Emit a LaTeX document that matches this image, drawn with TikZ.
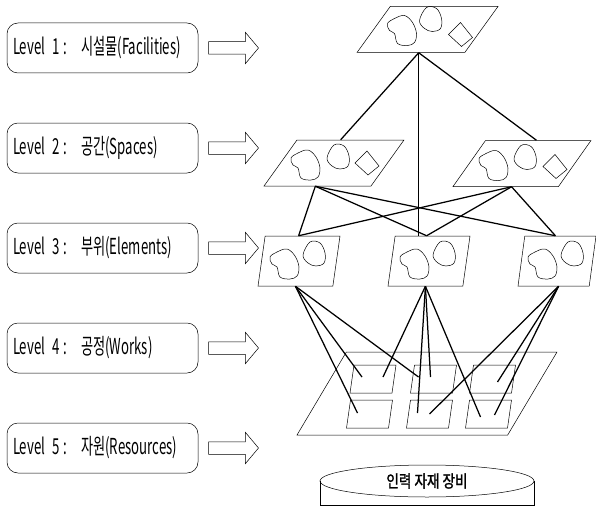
\documentclass[tikz,border=0pt]{standalone}
\usepackage{fontspec}
\setmainfont{Noto Sans CJK KR}[FakeStretch=0.6]
\newfontfamily\cylfont{Noto Sans CJK KR}[FakeStretch=0.8, FakeBold=1.5]
\usetikzlibrary{shapes.geometric, shapes.arrows, positioning, calc}

% little outlines drawn inside the sheets
\newcommand{\potato}[1]{\draw[outline, shift={(#1)}] plot[smooth cycle, tension=0.6]
  coordinates {(-16,-7) (-9,-12) (1,-15) (9,-8) (13,3) (11,12) (4,15) (-6,13) (-9,3) (-14,0)};}
\newcommand{\roundy}[1]{\draw[outline, shift={(#1)}] plot[smooth cycle, tension=0.6]
  coordinates {(-11,1) (-4,-12) (6,-11) (11,-1) (10,9) (2,12) (-6,9)};}
\newcommand{\kite}[1]{\draw[outline, shift={(#1)}] (0,-12) -- (12,3) -- (1,12) -- (-12,0) -- cycle;}

\tikzset{
  outline/.style={line width=0.5pt},
  levelbox/.style={draw, outline, rounded corners=11pt, minimum width=191pt, minimum height=50pt,
    text width=179pt, align=left, inner sep=6pt, font=\fontsize{22}{22}\selectfont},
  levelarrow/.style={draw, outline, single arrow, single arrow head extend=9.5pt,
    single arrow tip angle=100, minimum height=50pt, inner xsep=0pt, inner ysep=6pt},
  sheet/.style={draw, outline, trapezium, trapezium stretches=true, inner sep=2pt},
  bigsheet/.style={sheet, trapezium left angle=66, trapezium right angle=114, minimum height=46pt},
  partsheet/.style={sheet, trapezium left angle=84, trapezium right angle=96, minimum height=50pt},
  worksheet/.style={sheet, trapezium left angle=84, trapezium right angle=96, minimum width=46pt, minimum height=28pt},
  link/.style={line width=1.25pt},
}

\begin{document}
\begin{tikzpicture}[x=1pt, y=-1pt]
\useasboundingbox (0,0) rectangle (596,508);

% ---- level labels with their arrows
\foreach \n/\y/\txt in {1/48/시설물(Facilities), 2/148/공간(Spaces), 3/248/부위(Elements),
                        4/348/공정(Works), 5/448/자원(Resources)} {
  \node[levelbox] (lv\n) at (102.5,\y) {Level \n\,:\hspace{14pt}\txt};
  \node[levelarrow, right=10pt of lv\n] (ar\n) {};
}

% ---- level 1 and 2 sheets
\node[bigsheet, minimum width=141pt] (fac) at (427.5,29.5) {};
\node[bigsheet, minimum width=140pt] (spL) at (334,163) {};
\node[bigsheet, minimum width=138pt] (spR) at (522,163.5) {};
\potato{$(fac)+(-24,1)$} \roundy{$(fac)+(3,-10)$} \kite{$(fac)+(33,5)$}
\potato{$(spL)+(-27,2)$} \roundy{$(spL)+(4,-6)$} \kite{$(spL)+(33,0)$}
\potato{$(spR)+(-27,2)$} \roundy{$(spR)+(3,-6)$} \kite{$(spR)+(33,3)$}

% ---- level 3 sheets
\node[partsheet, minimum width=82pt] (elL) at (299,261) {};
\node[partsheet, minimum width=82pt] (elM) at (429,261) {};
\node[partsheet, minimum width=78pt] (elR) at (557,261) {};
\foreach \e in {elL, elM, elR} {
  \potato{$(\e)+(-13,3)$} \roundy{$(\e)+(15,-7)$}
}

% ---- level 4 plate with its works
\node[sheet, trapezium left angle=73, trapezium right angle=107,
      minimum width=260pt, minimum height=83pt] (plate) at (427,393.5) {};
\node[worksheet] (w1) at (373,379) {};
\node[worksheet] (w2) at (433.5,379) {};
\node[worksheet] (w3) at (492.5,379) {};
\node[worksheet] (w4) at (369.5,414) {};
\node[worksheet] (w5) at (429.5,414) {};
\node[worksheet] (w6) at (488.5,414) {};

% ---- level 5 resources
\node[ellipse, draw, outline, minimum width=214pt, minimum height=32pt, inner sep=0pt,
      font=\cylfont\fontsize{17}{17}\selectfont] (res) at (427,481) {인력 자재 장비};
\coordinate (floor) at (0,505);
\draw[outline] (res.west) -- (res.west |- floor) -- (res.east |- floor) -- (res.east);

% ---- links
\coordinate (facB) at ([xshift=8pt]fac.bottom side);
\draw[link] (facB) -- ([xshift=-10pt]spL.top side);
\draw[link] (facB) -- ([xshift=-2pt]spR.top side);
\draw[link] (facB) -- (facB |- elM.top side);
\foreach \s/\dx in {spL/-2, spR/6}
  \foreach \e/\ex in {elL/-4, elM/-6, elR/-5}
    \draw[link] ([xshift=\dx pt]\s.bottom side) -- ([xshift=\ex pt]\e.top side);
\foreach \w/\dx/\dy in {w4/-12/-1, w1/-11/-2, w2/-15/-2}
  \draw[link] (elL.bottom side) -- ($(\w)+(\dx,\dy)$);
\foreach \w/\dx/\dy in {w1/10/-2, w2/-3/-2, w5/-12/-1, w6/-8/3}
  \draw[link] (elM.bottom side) -- ($(\w)+(\dx,\dy)$);
\foreach \w/\dx/\dy in {w5/0/0, w3/5/3, w6/6/1}
  \draw[link] ([xshift=5pt]elR.bottom side) -- ($(\w)+(\dx,\dy)$);

\end{tikzpicture}
\end{document}
